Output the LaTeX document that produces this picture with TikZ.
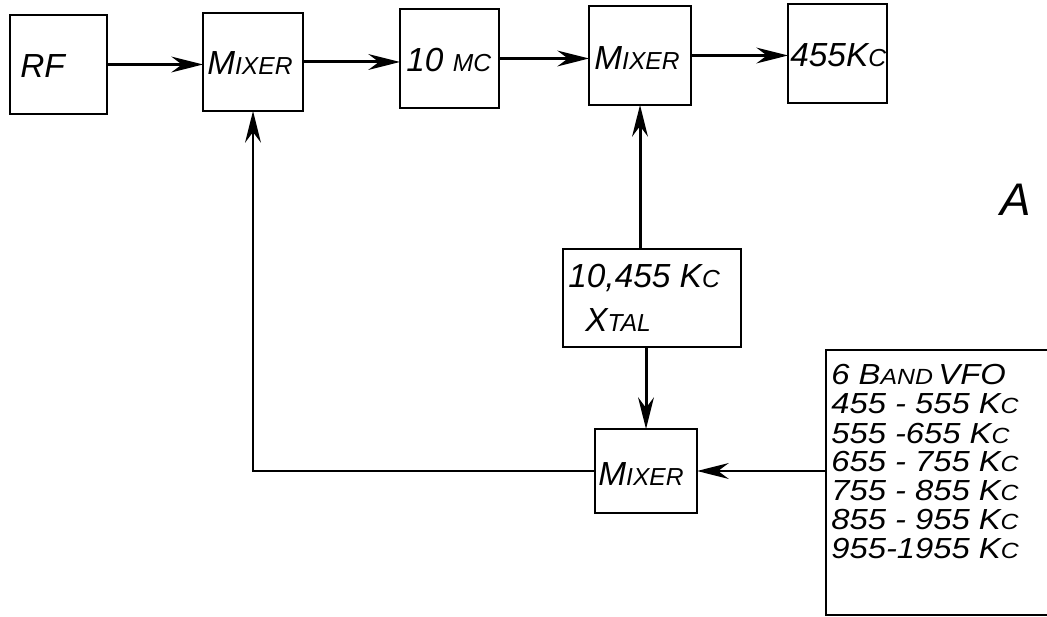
\documentclass[tikz,border=0pt]{standalone}
\usepackage{fontspec}
\setmainfont{Liberation Sans}
\usetikzlibrary{arrows.meta}
\newcommand\bigc[1]{{\fontsize{19}{19}\selectfont #1}}
\newcommand\smc[1]{{\fontsize{14}{14}\selectfont #1}}
\newcommand\vbig[1]{{\fontsize{16.5}{16.5}\selectfont #1}}
\newcommand\vsm[1]{{\fontsize{12.5}{12.5}\selectfont #1}}
\newcommand\vfoline[1]{\scalebox{1.13}[1]{#1}}
\begin{document}
\begin{tikzpicture}[x=0.02cm,y=-0.02cm,
  blk/.style={draw, line width=1.5pt, inner sep=0pt, outer sep=0pt},
  lbl/.style={anchor=west, inner sep=0pt, font=\itshape},
  conn/.style={line width=1.7pt, -{Stealth[length=18pt,width=9pt,inset=6pt]}}]
\useasboundingbox (0,0) rectangle (1047,617);
\fill[white] (0,0) rectangle (1047,617);
\clip (0,0) rectangle (1047,617);
% boxes
\node[blk, minimum width=97*0.02cm, minimum height=99*0.02cm] (rf) at (58.5,64.5) {};
\node[blk, minimum width=100*0.02cm, minimum height=98*0.02cm] (mix1) at (253,62) {};
\node[blk, minimum width=99*0.02cm, minimum height=99*0.02cm] (mc) at (449.5,58.5) {};
\node[blk, minimum width=102*0.02cm, minimum height=99*0.02cm] (mix2) at (640,55.5) {};
\node[blk, minimum width=99*0.02cm, minimum height=99*0.02cm] (kc) at (837.5,53.5) {};
\node[blk, minimum width=178*0.02cm, minimum height=98*0.02cm] (xtal) at (652,298) {};
\node[blk, minimum width=102*0.02cm, minimum height=84*0.02cm] (mix3) at (646,471) {};
\node[blk, minimum width=244*0.02cm, minimum height=265*0.02cm] (vfo) at (948,482.5) {};
% labels
\node[lbl] (trf) at (20,66) {\bigc{RF}};
\node[lbl] (tm1) at (207,63) {\bigc{M}\smc{IXER}};
\node[lbl] (tmc) at (406,60) {\bigc{10 }\smc{MC}};
\node[lbl] (tm2) at (594,58) {\bigc{M}\smc{IXER}};
\node[lbl] (tkc) at (790,55) {\bigc{455K}\smc{C}};
\node[lbl] (tx1) at (568,278) {\bigc{10,455 K}\smc{C}};
\node[lbl] (tx2) at (585,320) {\bigc{X}\smc{TAL}};
\node[lbl] (tm3) at (598,474) {\bigc{M}\smc{IXER}};
\node[lbl] (v1) at (831,375) {\vfoline{\vbig{6 B}\vsm{AND} \vbig{VFO}}};
\node[lbl] (v2) at (831,404) {\vfoline{\vbig{455 - 555 K}\vsm{C}}};
\node[lbl] (v3) at (831,434) {\vfoline{\vbig{555 -655 K}\vsm{C}}};
\node[lbl] (v4) at (831,462) {\vfoline{\vbig{655 - 755 K}\vsm{C}}};
\node[lbl] (v5) at (831,491) {\vfoline{\vbig{755 - 855 K}\vsm{C}}};
\node[lbl] (v6) at (831,520) {\vfoline{\vbig{855 - 955 K}\vsm{C}}};
\node[lbl] (v7) at (831,549) {\vfoline{\vbig{955-1955 K}\vsm{C}}};
\node[lbl, font=\itshape\fontsize{26}{26}\selectfont] (a) at (1000,200) {A};
% connectors
\draw[conn] (rf.east) -- (rf.east -| mix1.west);
\draw[conn] (mix1.east) -- (mix1.east -| mc.west);
\draw[conn] (mc.east) -- (mc.east -| mix2.west);
\draw[conn] (mix2.east) -- (mix2.east -| kc.west);
\draw[conn] (mix2.south |- xtal.north) -- (mix2.south);
\draw[conn] (mix3.north |- xtal.south) -- (mix3.north);
\draw[conn] (mix3.east -| vfo.west) -- (mix3.east);
\draw[conn] (mix3.west) -| (mix1.south);
\end{tikzpicture}
\end{document}
